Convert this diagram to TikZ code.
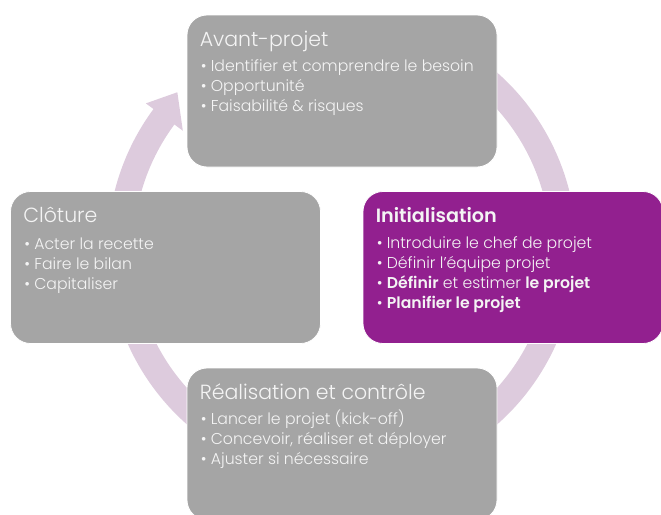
\documentclass[tikz,border=0pt]{standalone}
\usepackage{fontspec}
\setmainfont{Poppins}[UprightFont=* Light, BoldFont=* SemiBold]
\usetikzlibrary{calc}
\definecolor{phasegray}{HTML}{A5A5A5}
\definecolor{phasepurple}{HTML}{92208F}
\definecolor{cyclelilac}{HTML}{DDCBDD}
\definecolor{phasetext}{HTML}{F4F4F4}

\begin{document}
\begin{tikzpicture}[x=1pt, y=-1pt,
    phase/.style={draw=white, line width=0.8pt, rounded corners=20pt,
      minimum width=310pt, minimum height=152pt, inner sep=0pt},
    phasetitle/.style={anchor=base west, inner sep=0pt, text=phasetext,
      font=\fontsize{20.5}{25}\selectfont},
    phaseitem/.style={anchor=base west, inner sep=0pt, text=phasetext,
      font=\fontsize{15.7}{18}\selectfont}]
    \path[use as bounding box, clip] (0,0) rectangle (661,514);
    \coordinate (centre) at (342,248.5);

    % cycle arrow behind the boxes
    \fill[cyclelilac] ($(centre)+(-65:234.5)$)
        arc[start angle=-65, end angle=216.5, radius=234.5]
        -- ($(centre)+(216.5:244)$) -- ($(centre)+(223.5:227)$)
        -- ($(centre)+(216.5:198)$) -- ($(centre)+(216.5:208.5)$)
        arc[start angle=216.5, end angle=-65, radius=208.5] -- cycle;

    % the four phases
    \node [phase, fill=phasegray] (avant) at (342,91) {};
    \node [phase, fill=phasepurple, minimum width=300pt] (init) at (513,267.5) {};
    \node [phase, fill=phasegray] (cloture) at (165.5,267.5) {};
    \node [phase, fill=phasegray] (realisation) at (342,444) {};

    \node [phasetitle] (avant-titre) at ($(avant.north west)+(13,32)$) {Avant-projet};
    \foreach \txt [count=\i] in {Identifier et comprendre le besoin, Opportunité,
        Faisabilité \& risques}
        \node [phaseitem] (avant-\i) at ($(avant.north west)+(14,37+20*\i)$) {• \txt};

    \node [phasetitle, font=\bfseries\fontsize{19.2}{22}\selectfont] (init-titre)
        at ($(init.north west)+(13,31)$) {Initialisation};
    \foreach \txt [count=\i] in {Introduire le chef de projet, Définir l'équipe projet,
        {\textbf{Définir} et estimer \textbf{le projet}}, {\textbf{Planifier le projet}}}
        \node [phaseitem] (init-\i) at ($(init.north west)+(14,37+20*\i)$) {• \txt};

    \node [phasetitle] (cloture-titre) at ($(cloture.north west)+(13,31)$) {Clôture};
    \foreach \txt [count=\i] in {Acter la recette, Faire le bilan, Capitaliser}
        \node [phaseitem] (cloture-\i) at ($(cloture.north west)+(14,38+20*\i)$) {• \txt};

    \node [phasetitle] (realisation-titre) at ($(realisation.north west)+(13,32)$)
        {Réalisation et contrôle};
    \foreach \txt [count=\i] in {Lancer le projet (kick-off),
        {Concevoir, réaliser et déployer}, Ajuster si nécessaire}
        \node [phaseitem] (realisation-\i) at ($(realisation.north west)+(14,37+20*\i)$) {• \txt};

\end{tikzpicture}
\end{document}
